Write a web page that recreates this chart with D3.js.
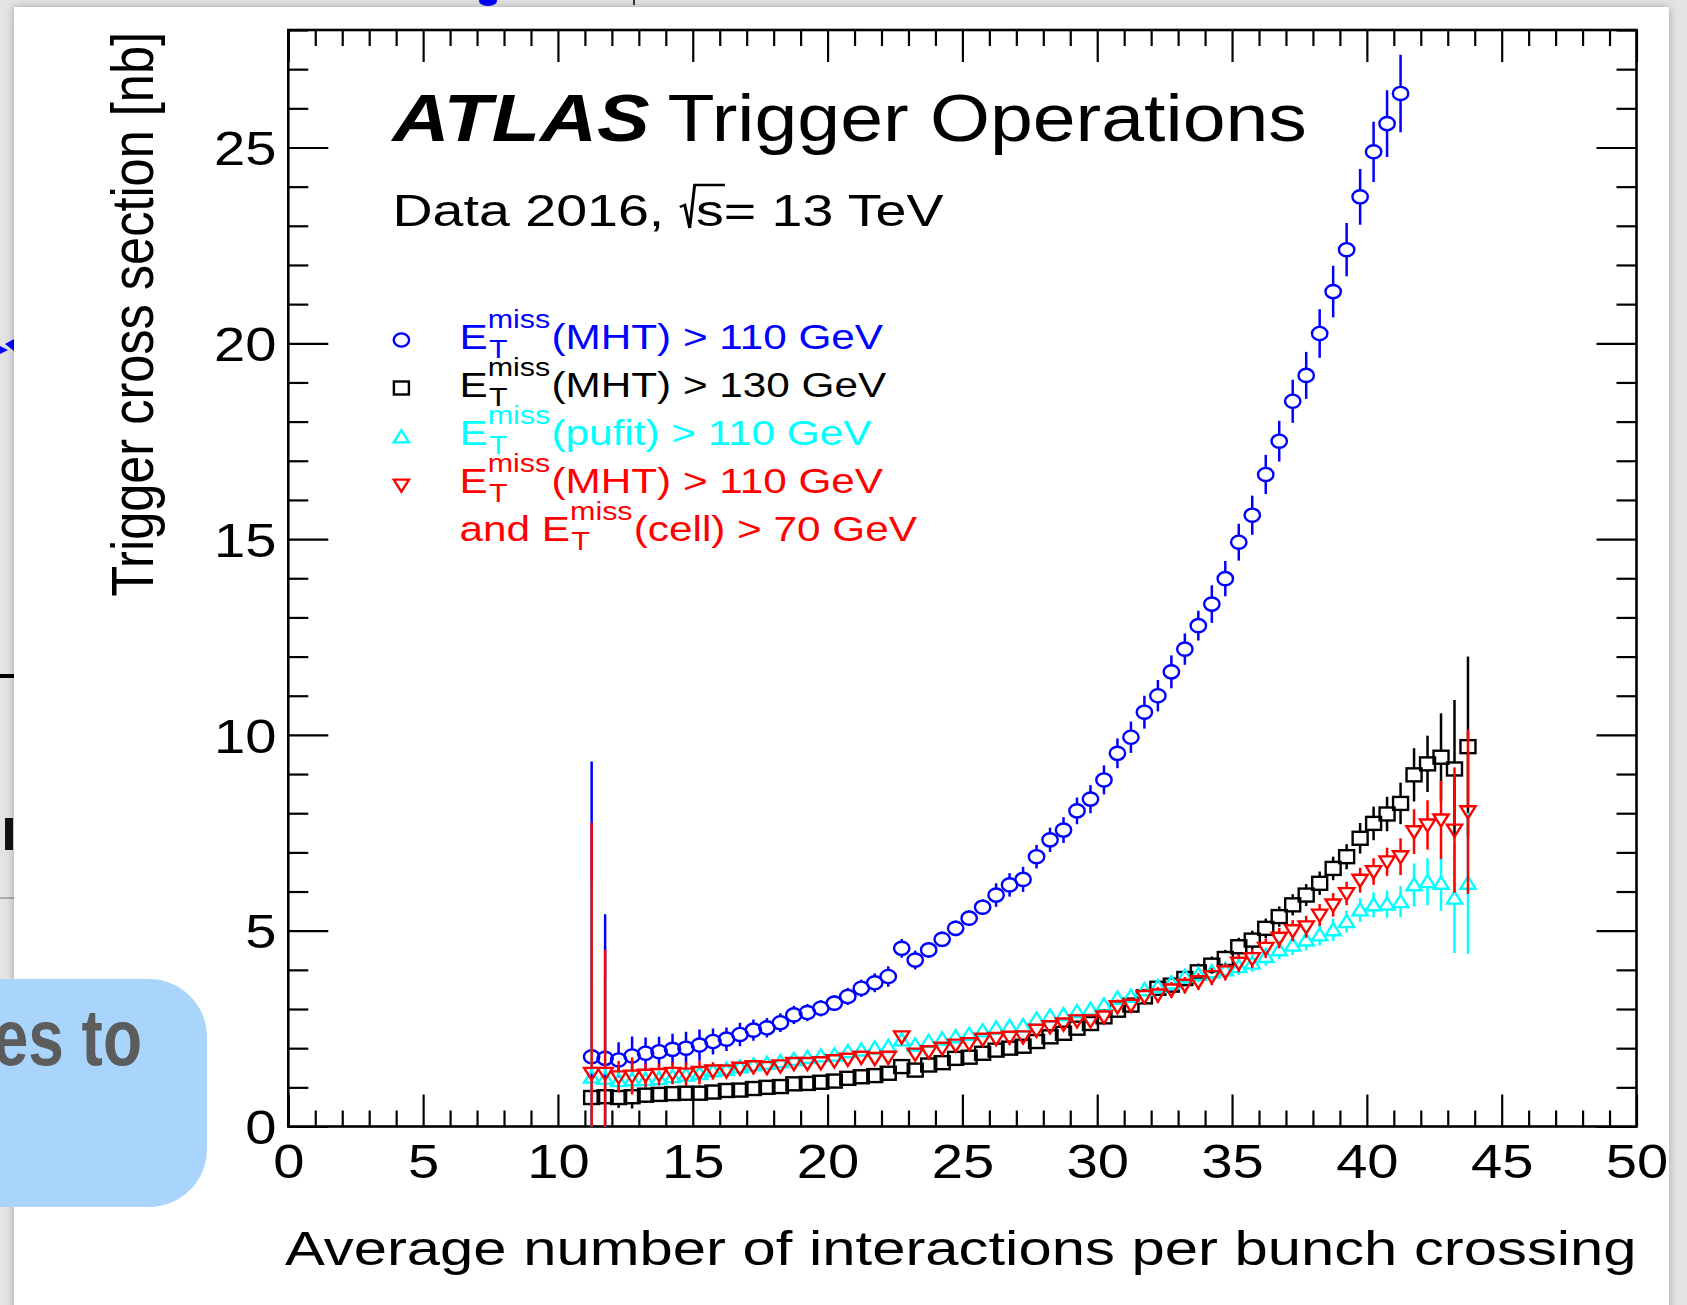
<!DOCTYPE html>
<html>
<head>
<meta charset="utf-8">
<script src="https://cdn.jsdelivr.net/npm/d3@7"></script>
<style>
  html, body { margin: 0; padding: 0; background: #e6e6e6; overflow: hidden; }
  svg { display: block; font-family: "Liberation Sans", Arial, Helvetica, sans-serif; }
  text { white-space: pre; }
</style>
</head>
<body>
<svg id="chart" width="1687" height="1305"></svg>
<script>
"use strict";

// bin centres: average number of interactions per bunch crossing
const mu = [
  11.25, 11.75, 12.25, 12.75, 13.25, 13.75, 14.25, 14.75, 15.25, 15.75,
  16.25, 16.75, 17.25, 17.75, 18.25, 18.75, 19.25, 19.75, 20.25, 20.75,
  21.25, 21.75, 22.25, 22.75, 23.25, 23.75, 24.25, 24.75, 25.25, 25.75,
  26.25, 26.75, 27.25, 27.75, 28.25, 28.75, 29.25, 29.75, 30.25, 30.75,
  31.25, 31.75, 32.25, 32.75, 33.25, 33.75, 34.25, 34.75, 35.25, 35.75,
  36.25, 36.75, 37.25, 37.75, 38.25, 38.75, 39.25, 39.75, 40.25, 40.75,
  41.25, 41.75, 42.25, 42.75, 43.25, 43.75
];

// E_T^miss(MHT) > 110 GeV (blue, stops where it leaves the frame)
const mht110 = [
  1.78, 1.74, 1.70, 1.80, 1.87, 1.91, 1.97, 2.00, 2.08, 2.17,
  2.23, 2.35, 2.46, 2.52, 2.65, 2.85, 2.91, 3.02, 3.15, 3.32,
  3.53, 3.67, 3.83, 4.55, 4.25, 4.51, 4.78, 5.06, 5.32, 5.60,
  5.91, 6.17, 6.31, 6.89, 7.32, 7.57, 8.06, 8.36, 8.85, 9.53,
  9.94, 10.58, 11.00, 11.61, 12.19, 12.79, 13.34, 13.99, 14.92, 15.61,
  16.65, 17.50, 18.52, 19.18, 20.25, 21.32, 22.39, 23.74, 24.89, 25.61,
  26.38
];
const mht110Err = [
  7.54, 3.68, 0.45, 0.50, 0.40, 0.38, 0.40, 0.42, 0.40, 0.33,
  0.30, 0.30, 0.27, 0.25, 0.24, 0.23, 0.22, 0.21, 0.20, 0.22,
  0.22, 0.24, 0.26, 0.24, 0.24, 0.20, 0.20, 0.20, 0.20, 0.20,
  0.30, 0.30, 0.32, 0.30, 0.31, 0.33, 0.34, 0.36, 0.37, 0.38,
  0.40, 0.42, 0.40, 0.42, 0.40, 0.38, 0.48, 0.45, 0.47, 0.50,
  0.50, 0.52, 0.55, 0.60, 0.62, 0.66, 0.68, 0.71, 0.77, 0.85,
  0.99
];

// E_T^miss(MHT) > 130 GeV (black)
const mht130 = [
  0.74, 0.76, 0.74, 0.76, 0.80, 0.82, 0.84, 0.85, 0.85, 0.88,
  0.92, 0.93, 0.97, 1.00, 1.02, 1.09, 1.10, 1.13, 1.16, 1.23,
  1.27, 1.30, 1.36, 1.53, 1.44, 1.57, 1.63, 1.74, 1.77, 1.87,
  1.95, 2.00, 2.05, 2.17, 2.29, 2.38, 2.51, 2.63, 2.80, 2.97,
  3.10, 3.31, 3.53, 3.61, 3.78, 3.95, 4.12, 4.29, 4.59, 4.76,
  5.06, 5.36, 5.66, 5.91, 6.21, 6.59, 6.89, 7.36, 7.74, 7.98,
  8.25, 8.98, 9.26, 9.43, 9.13, 9.70
];
const mht130Err = [
  0.10, 0.10, 0.27, 0.30, 0.20, 0.18, 0.18, 0.20, 0.20, 0.15,
  0.12, 0.12, 0.11, 0.11, 0.10, 0.10, 0.10, 0.10, 0.10, 0.10,
  0.10, 0.10, 0.10, 0.12, 0.11, 0.11, 0.11, 0.12, 0.12, 0.12,
  0.12, 0.13, 0.13, 0.13, 0.14, 0.14, 0.15, 0.15, 0.16, 0.17,
  0.18, 0.18, 0.19, 0.20, 0.20, 0.21, 0.22, 0.22, 0.23, 0.24,
  0.25, 0.26, 0.27, 0.28, 0.30, 0.30, 0.32, 0.39, 0.43, 0.44,
  0.53, 0.68, 0.72, 1.12, 1.76, 2.30
];

// E_T^miss(pufit) > 110 GeV (cyan)
const pufit110 = [
  1.26, 1.23, 1.17, 1.19, 1.20, 1.22, 1.27, 1.31, 1.35, 1.42,
  1.46, 1.52, 1.57, 1.61, 1.65, 1.71, 1.76, 1.80, 1.82, 1.91,
  1.95, 2.00, 2.04, 2.21, 2.08, 2.17, 2.23, 2.29, 2.35, 2.44,
  2.51, 2.55, 2.57, 2.74, 2.82, 2.85, 2.93, 2.99, 3.10, 3.27,
  3.32, 3.49, 3.57, 3.66, 3.83, 3.88, 3.95, 4.00, 4.08, 4.17,
  4.34, 4.51, 4.63, 4.76, 4.89, 5.02, 5.23, 5.53, 5.66, 5.68,
  5.74, 6.17, 6.25, 6.21, 5.83, 6.21
];
const pufit110Err = [
  5.00, 2.50, 0.25, 0.28, 0.20, 0.18, 0.18, 0.18, 0.18, 0.15,
  0.13, 0.12, 0.12, 0.12, 0.11, 0.11, 0.11, 0.11, 0.11, 0.11,
  0.11, 0.11, 0.11, 0.13, 0.12, 0.12, 0.12, 0.12, 0.12, 0.12,
  0.13, 0.13, 0.13, 0.14, 0.14, 0.14, 0.15, 0.15, 0.16, 0.16,
  0.17, 0.17, 0.18, 0.18, 0.19, 0.19, 0.20, 0.20, 0.21, 0.22,
  0.23, 0.24, 0.25, 0.26, 0.27, 0.28, 0.28, 0.30, 0.32, 0.35,
  0.40, 0.55, 0.60, 0.70, 1.40, 1.80
];

// E_T^miss(MHT) > 110 GeV and E_T^miss(cell) > 70 GeV (red)
const mhtCell = [
  1.36, 1.36, 1.27, 1.29, 1.31, 1.33, 1.36, 1.34, 1.38, 1.42,
  1.42, 1.49, 1.53, 1.51, 1.55, 1.61, 1.61, 1.63, 1.68, 1.72,
  1.77, 1.74, 1.77, 2.29, 1.85, 1.91, 2.00, 2.08, 2.12, 2.23,
  2.25, 2.28, 2.29, 2.46, 2.55, 2.62, 2.70, 2.70, 2.80, 3.06,
  3.10, 3.32, 3.36, 3.49, 3.61, 3.70, 3.83, 3.95, 4.17, 4.29,
  4.55, 4.81, 5.00, 5.10, 5.40, 5.66, 5.95, 6.29, 6.51, 6.76,
  6.89, 7.53, 7.70, 7.83, 7.57, 8.04
];
const mhtCellErr = [
  6.40, 3.15, 0.40, 0.47, 0.30, 0.28, 0.28, 0.30, 0.30, 0.22,
  0.15, 0.15, 0.14, 0.14, 0.13, 0.13, 0.13, 0.13, 0.13, 0.13,
  0.13, 0.13, 0.13, 0.15, 0.14, 0.14, 0.14, 0.14, 0.14, 0.14,
  0.15, 0.15, 0.15, 0.15, 0.16, 0.16, 0.17, 0.17, 0.18, 0.18,
  0.19, 0.19, 0.20, 0.20, 0.21, 0.21, 0.22, 0.22, 0.23, 0.24,
  0.25, 0.26, 0.27, 0.28, 0.28, 0.30, 0.30, 0.32, 0.34, 0.36,
  0.47, 0.57, 0.63, 1.00, 1.60, 2.10
];

const xDomain = [0, 50];
const yDomain = [0, 28];

const legendRows = [
  { prefix: '', label: '(MHT) > 110 GeV', color: '#0000ff', shape: 'circle' },
  { prefix: '', label: '(MHT) > 130 GeV', color: '#000000', shape: 'square' },
  { prefix: '', label: '(pufit) > 110 GeV', color: '#00ffff', shape: 'triUp' },
  { prefix: '', label: '(MHT) > 110 GeV', color: '#ff0000', shape: 'triDown' },
  { prefix: 'and ', label: '(cell) > 70 GeV', color: '#ff0000', shape: null }
];

// ---------------------------------------------------------------------------

const SX = 1.17;                 // the screenshot is stretched sideways
const W = 1687, H = 1305;
const frame = { left: 288.3, right: 1636.5, top: 30, bottom: 1126.5 };

const svg = d3.select('#chart');

// ---- page behind the chart (slide remains) ----
const defs = svg.append('defs');
const shadow = defs.append('filter').attr('id', 'shadow')
  .attr('x', '-5%').attr('y', '-5%').attr('width', '110%').attr('height', '110%');
shadow.append('feDropShadow').attr('dx', 0).attr('dy', 0)
  .attr('stdDeviation', 5).attr('flood-color', '#000').attr('flood-opacity', 0.28);

svg.append('rect').attr('width', W).attr('height', H).attr('fill', '#e4e4e4');

// bits of the slide underneath, peeking out at the edges
svg.append('ellipse').attr('cx', 488).attr('cy', 1).attr('rx', 9).attr('ry', 5).attr('fill', '#0000ff');
svg.append('line').attr('x1', 634).attr('x2', 634).attr('y1', 0).attr('y2', 5)
  .attr('stroke', '#333').attr('stroke-width', 2);
svg.append('path').attr('d', 'M0,346 L8,350 L0,354 Z M5,344 L14,339 L14,351 Z').attr('fill', '#0000ff');
svg.append('line').attr('x1', 0).attr('x2', 14).attr('y1', 676).attr('y2', 676)
  .attr('stroke', '#000').attr('stroke-width', 4);
svg.append('rect').attr('x', 5).attr('y', 818).attr('width', 8).attr('height', 32).attr('fill', '#111');
svg.append('line').attr('x1', 0).attr('x2', 14).attr('y1', 898).attr('y2', 898)
  .attr('stroke', '#999').attr('stroke-width', 1.5);

svg.append('rect')
  .attr('x', 14).attr('y', 7).attr('width', 1655).attr('height', H + 40)
  .attr('fill', '#fff').attr('filter', 'url(#shadow)');

// ---- scales ----
const x = d3.scaleLinear().domain(xDomain).range([frame.left, frame.right]);
const y = d3.scaleLinear().domain(yDomain).range([frame.bottom, frame.top]);

const xMajor = x.ticks(10);
const xMinor = x.ticks(50).filter(v => xMajor.indexOf(v) < 0);
const yMajor = y.ticks(6).filter(v => v % 5 === 0);
const yMinor = d3.range(0, 29, 1).filter(v => v % 5 !== 0);

const axes = svg.append('g');

function tickAxis(axisFn, scale, vals, size, transform) {
  const g = axes.append('g').attr('transform', transform)
    .call(axisFn(scale).tickValues(vals).tickSize(size).tickFormat(''));
  g.select('.domain').remove();
  g.selectAll('line').attr('stroke', '#000').attr('stroke-width', 2.2);
  return g;
}

// inward ticks on all four sides
tickAxis(d3.axisTop, x, xMajor, 32, `translate(0,${frame.bottom})`);
tickAxis(d3.axisTop, x, xMinor, 16, `translate(0,${frame.bottom})`);
tickAxis(d3.axisBottom, x, xMajor, 32, `translate(0,${frame.top})`);
tickAxis(d3.axisBottom, x, xMinor, 16, `translate(0,${frame.top})`);
tickAxis(d3.axisRight, y, yMajor, 40, `translate(${frame.left},0)`);
tickAxis(d3.axisRight, y, yMinor, 20, `translate(${frame.left},0)`);
tickAxis(d3.axisLeft, y, yMajor, 40, `translate(${frame.right},0)`);
tickAxis(d3.axisLeft, y, yMinor, 20, `translate(${frame.right},0)`);

// tick labels
const xLab = svg.append('g').attr('transform', `translate(0,${frame.bottom})`)
  .call(d3.axisBottom(x).tickValues(xMajor).tickSize(0));
xLab.select('.domain').remove();
xLab.selectAll('text')
  .attr('y', 0).attr('dy', 0)
  .attr('transform', `translate(0,51.5) scale(${SX},1)`)
  .attr('font-size', 48).attr('fill', '#000')
  .attr('font-family', '"Liberation Sans", Arial, sans-serif');

const yLab = svg.append('g').attr('transform', `translate(${frame.left},0)`)
  .call(d3.axisLeft(y).tickValues(yMajor).tickSize(0));
yLab.select('.domain').remove();
yLab.selectAll('text')
  .attr('x', 0).attr('dy', '0.36em')
  .attr('transform', `translate(-11.8,0) scale(${SX},1)`)
  .attr('font-size', 48).attr('fill', '#000')
  .attr('font-family', '"Liberation Sans", Arial, sans-serif');

// frame
svg.append('rect')
  .attr('x', frame.left).attr('y', frame.top)
  .attr('width', frame.right - frame.left).attr('height', frame.bottom - frame.top)
  .attr('fill', 'none').attr('stroke', '#000').attr('stroke-width', 2.6);

// ---- axis titles ----
function fitGroup(g, x0, x1, baseline) {
  const b = g.node().getBBox();
  const s = (x1 - x0) / (b.x + b.width);
  g.attr('transform', `translate(${x0},${baseline}) scale(${s},1)`);
  return s;
}

const xTitle = svg.append('g');
xTitle.append('text').attr('font-size', 49).attr('fill', '#000')
  .text('Average number of interactions per bunch crossing');
fitGroup(xTitle, 285, 1637, 1265);

const yTitle = svg.append('text')
  .attr('text-anchor', 'end').attr('font-size', 50).attr('fill', '#000')
  .text('Trigger cross section [nb]');
const yLen = yTitle.node().getComputedTextLength();
yTitle.attr('font-size', 50 * 565 / yLen)
  .attr('transform', `translate(153,32) scale(${SX},1) rotate(-90)`);

// ---- data ----
const shapes = {
  circle:  { gapTop: 6.6, gapBot: 6.6 },
  square:  { gapTop: 6.5, gapBot: 6.5 },
  triUp:   { gapTop: 6.8, gapBot: 5.4 },
  triDown: { gapTop: 5.4, gapBot: 6.8 }
};

function drawMarker(sel, shape, color) {
  if (shape === 'circle') {
    sel.append('ellipse').attr('rx', 7.7).attr('ry', 6.6);
  } else if (shape === 'square') {
    sel.append('rect').attr('x', -7.5).attr('y', -6.5).attr('width', 15).attr('height', 13);
  } else if (shape === 'triUp') {
    sel.append('path').attr('d', 'M-7.6,5.4 L7.6,5.4 L0,-6.8 Z');
  } else if (shape === 'triDown') {
    sel.append('path').attr('d', 'M-7.6,-5.4 L7.6,-5.4 L0,6.8 Z');
  }
  sel.selectAll('ellipse,rect,path')
    .attr('fill', 'none').attr('stroke', color).attr('stroke-width', 2.4)
    .attr('stroke-linejoin', 'miter');
}

defs.append('clipPath').attr('id', 'plotClip').append('rect')
  .attr('x', frame.left).attr('y', frame.top)
  .attr('width', frame.right - frame.left).attr('height', frame.bottom - frame.top);

const plot = svg.append('g').attr('clip-path', 'url(#plotClip)');

const series = [
  { values: mht110,   errs: mht110Err,   color: '#0000ff', shape: 'circle' },
  { values: mht130,   errs: mht130Err,   color: '#000000', shape: 'square' },
  { values: pufit110, errs: pufit110Err, color: '#00ffff', shape: 'triUp' },
  { values: mhtCell,  errs: mhtCellErr,  color: '#ff0000', shape: 'triDown' }
];

series.forEach(s => {
  const g = plot.append('g');
  const gap = shapes[s.shape];
  const pts = s.values.map((v, i) => ({ mu: mu[i], v: v, e: s.errs[i] }));

  // error bars stop at the marker edge, as ROOT draws them
  const segs = [];
  pts.forEach(p => {
    const cx = x(p.mu), cy = y(p.v);
    const yt = y(p.v + p.e), yb = y(p.v - p.e);
    if (cy - gap.gapTop > yt) segs.push({ x: cx, y1: yt, y2: cy - gap.gapTop });
    if (yb > cy + gap.gapBot) segs.push({ x: cx, y1: cy + gap.gapBot, y2: yb });
  });

  g.selectAll('line').data(segs).join('line')
    .attr('x1', d => d.x).attr('x2', d => d.x)
    .attr('y1', d => d.y1).attr('y2', d => d.y2)
    .attr('stroke', s.color).attr('stroke-width', 2.5);

  g.selectAll('g.pt').data(pts).join('g')
    .attr('class', 'pt')
    .attr('transform', d => `translate(${x(d.mu)},${y(d.v)})`)
    .each(function () { drawMarker(d3.select(this), s.shape, s.color); });
});

// ---- labels ----
const atlas = svg.append('g');
atlas.append('text').attr('font-size', 66).attr('font-weight', 'bold')
  .attr('font-style', 'italic').attr('fill', '#000').text('ATLAS');
fitGroup(atlas, 392.5, 649.6, 141);

const trig = svg.append('g');
trig.append('text').attr('font-size', 66).attr('fill', '#000').text('Trigger Operations');
fitGroup(trig, 667.5, 1307, 141);

// Data 2016, sqrt(s) = 13 TeV
const dataLbl = svg.append('g');
(function () {
  const fs = 45;
  const t1 = dataLbl.append('text').attr('font-size', fs).text('Data 2016, ');
  const cx = t1.node().getComputedTextLength();
  const ts = dataLbl.append('text').attr('font-size', fs).attr('x', cx + 13).text('s');
  const ws = ts.node().getComputedTextLength();
  dataLbl.append('path')
    .attr('d', `M${cx},-19 L${cx + 4},-21 L${cx + 8},2 L${cx + 12},-41 L${cx + 14 + ws},-41`)
    .attr('fill', 'none').attr('stroke', '#000').attr('stroke-width', 2.4);
  dataLbl.append('text').attr('font-size', fs).attr('x', cx + 13 + ws).text('= 13 TeV');
  dataLbl.selectAll('text').attr('fill', '#000');
})();
fitGroup(dataLbl, 392.5, 943.6, 226);

// legend
const legend = svg.append('g');
const legBase = [349, 397, 445, 493, 541];
const markerY = [340, 388, 437, 485];

function emissText(g, row, fs) {
  let cx = 0;
  if (row.prefix) {
    const tp = g.append('text').attr('font-size', fs).text(row.prefix);
    cx += tp.node().getComputedTextLength();
  }
  const te = g.append('text').attr('x', cx).attr('font-size', fs).text('E');
  cx += te.node().getComputedTextLength();
  const sup = g.append('text').attr('x', cx).attr('y', -21).attr('font-size', fs * 0.72).text('miss');
  g.append('text').attr('x', cx + 1).attr('y', 9).attr('font-size', fs * 0.72).text('T');
  cx += sup.node().getComputedTextLength() + 1;
  g.append('text').attr('x', cx).attr('font-size', fs).text(row.label);
  g.selectAll('text').attr('fill', row.color);
}

let legScale = null;
legendRows.forEach((row, i) => {
  const g = legend.append('g');
  emissText(g, row, 35);
  if (legScale === null) {
    const b = g.node().getBBox();
    legScale = (884 - 459.5) / (b.x + b.width);
  }
  g.attr('transform', `translate(459.5,${legBase[i]}) scale(${legScale},1)`);
  if (row.shape) {
    const m = legend.append('g').attr('transform', `translate(401.4,${markerY[i]})`);
    drawMarker(m, row.shape, row.color);
  }
});

// ---- overlay bubble from the slide ----
svg.append('rect')
  .attr('x', -80).attr('y', 979).attr('width', 287).attr('height', 228)
  .attr('rx', 58).attr('fill', '#a9d5fd');
svg.append('text')
  .attr('text-anchor', 'end')
  .attr('transform', 'translate(142,1065) scale(0.8,1)')
  .attr('font-size', 80).attr('font-weight', 'bold').attr('fill', '#5c5c5c')
  .text('es to');
</script>
</body>
</html>
